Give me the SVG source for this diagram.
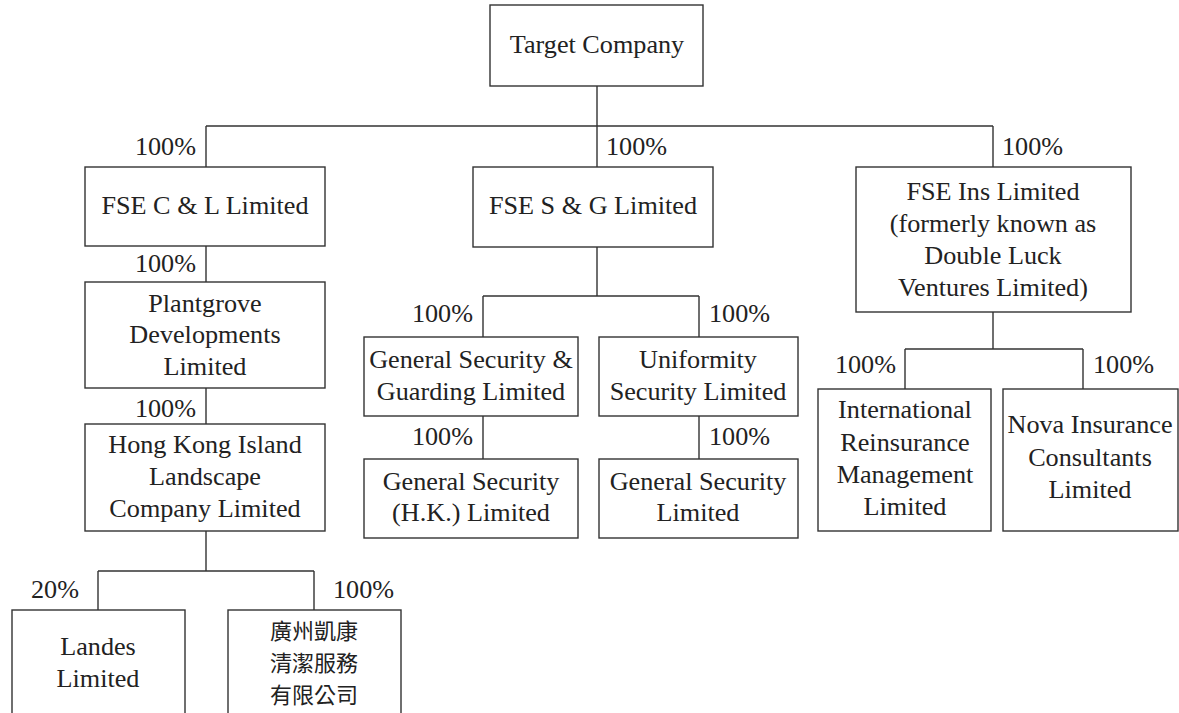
<svg xmlns="http://www.w3.org/2000/svg" width="1179" height="713" viewBox="0 0 1179 713">
<style>
.box{fill:#fff;stroke:#333;stroke-width:1.4}
.ln{fill:none;stroke:#333;stroke-width:1.4}
.c{text-anchor:middle}
.e{text-anchor:end}
</style>
<rect width="1179" height="713" fill="#fff"/>
<g font-family="Liberation Serif, Tinos, Times New Roman, Times, DejaVu Serif, Noto Serif, FreeSerif, serif" font-size="26.2" fill="#222">
<g id="connectors">
<path class="ln" d="M597 86V126M206 126H993M206 126V167M597 126V167M993 126V167"/>
<path class="ln" d="M206 246V282M206 388V424M206 531V571M98 571H314M98 571V610M314 571V610"/>
<path class="ln" d="M597 247V296M483 296H699M483 296V337M699 296V337M483 416V459M699 416V459"/>
<path class="ln" d="M993 312V349M905 349H1083M905 349V389M1083 349V389"/>
<g id="labels">
<text class="e" x="196" y="155">100%</text>
<text x="606" y="155">100%</text>
<text x="1002" y="155">100%</text>
<text class="e" x="196" y="272">100%</text>
<text class="e" x="196" y="417">100%</text>
<text class="e" x="79" y="598">20%</text>
<text x="333" y="598">100%</text>
<text class="e" x="473" y="322">100%</text>
<text x="709" y="322">100%</text>
<text class="e" x="473" y="445">100%</text>
<text x="709" y="445">100%</text>
<text class="e" x="896" y="373">100%</text>
<text x="1093" y="373">100%</text>
</g>
</g>
<g id="target"><rect class="box" x="490" y="5" width="213" height="81"/><text class="c" x="597" y="53">Target Company</text></g>
<g id="fsecl"><rect class="box" x="85" y="167" width="240" height="79"/><text class="c" x="205" y="214">FSE C &amp; L Limited</text></g>
<g id="fsesg"><rect class="box" x="473" y="167" width="240" height="80"/><text class="c" x="593" y="214">FSE S &amp; G Limited</text></g>
<g id="fseins"><rect class="box" x="856" y="167" width="275" height="145"/><text class="c" x="993" y="200">FSE Ins Limited</text><text class="c" x="993" y="232">(formerly known as</text><text class="c" x="993" y="264">Double Luck</text><text class="c" x="993" y="296">Ventures Limited)</text></g>
<g id="plantgrove"><rect class="box" x="85" y="282" width="240" height="106"/><text class="c" x="205" y="312">Plantgrove</text><text class="c" x="205" y="343">Developments</text><text class="c" x="205" y="375">Limited</text></g>
<g id="hki"><rect class="box" x="85" y="424" width="240" height="107"/><text class="c" x="205" y="453">Hong Kong Island</text><text class="c" x="205" y="485">Landscape</text><text class="c" x="205" y="517">Company Limited</text></g>
<g id="landes"><rect class="box" x="12" y="610" width="173" height="115"/><text class="c" x="98" y="655">Landes</text><text class="c" x="98" y="687">Limited</text></g>
<g id="gz" font-family="Noto Sans CJK TC, Noto Sans CJK SC, sans-serif" font-size="22"><rect class="box" x="228" y="610" width="173" height="115"/><text class="c" x="314" y="639">廣州凱康</text><text class="c" x="314" y="671">清潔服務</text><text class="c" x="314" y="703">有限公司</text></g>
<g id="gsg"><rect class="box" x="364" y="337" width="214" height="79"/><text class="c" x="471" y="368">General Security &amp;</text><text class="c" x="471" y="400">Guarding Limited</text></g>
<g id="usl"><rect class="box" x="599" y="337" width="199" height="79"/><text class="c" x="698" y="368">Uniformity</text><text class="c" x="698" y="400">Security Limited</text></g>
<g id="gshk"><rect class="box" x="364" y="459" width="214" height="79"/><text class="c" x="471" y="490">General Security</text><text class="c" x="471" y="521">(H.K.) Limited</text></g>
<g id="gsl"><rect class="box" x="599" y="459" width="199" height="79"/><text class="c" x="698" y="490">General Security</text><text class="c" x="698" y="521">Limited</text></g>
<g id="irml"><rect class="box" x="818" y="389" width="173" height="142"/><text class="c" x="905" y="418">International</text><text class="c" x="905" y="451">Reinsurance</text><text class="c" x="905" y="483">Management</text><text class="c" x="905" y="515">Limited</text></g>
<g id="nova"><rect class="box" x="1003" y="389" width="175" height="142"/><text class="c" x="1090" y="433">Nova Insurance</text><text class="c" x="1090" y="466">Consultants</text><text class="c" x="1090" y="498">Limited</text></g>
</g>
</svg>
